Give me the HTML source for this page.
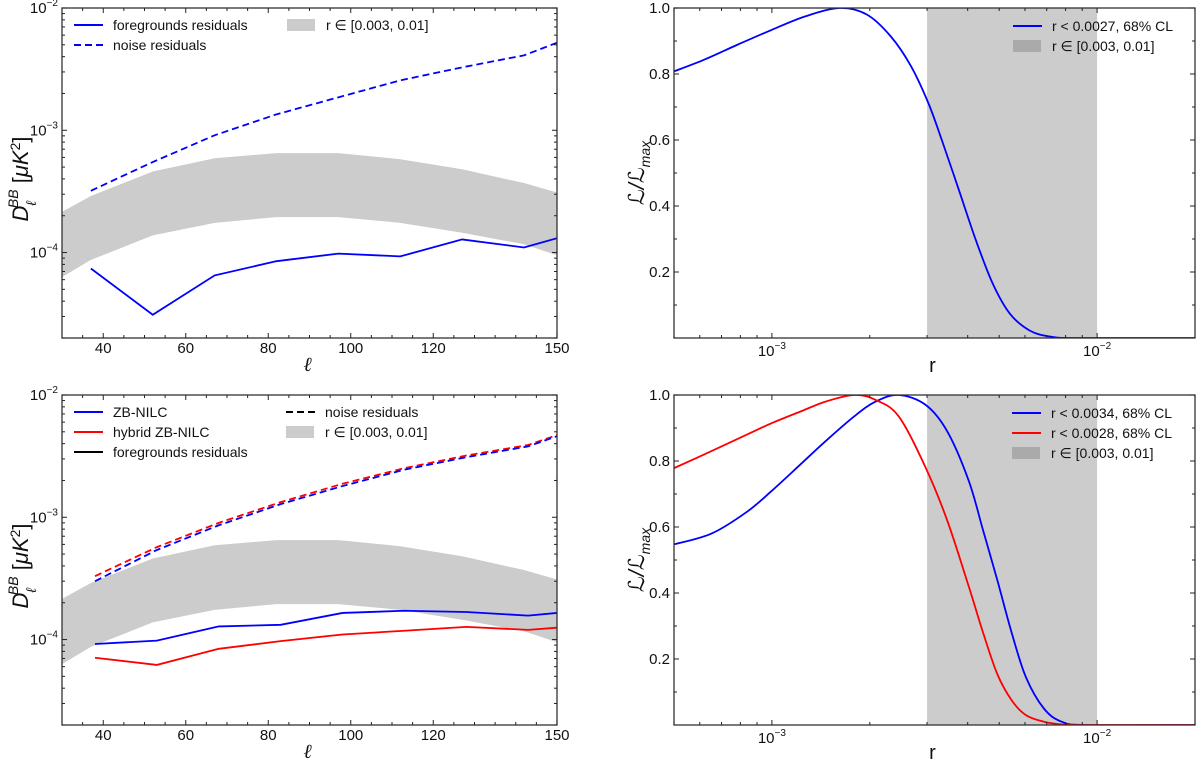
<!DOCTYPE html>
<html><head><meta charset="utf-8"><style>
body{margin:0;background:#fff;width:1200px;height:759px;overflow:hidden}
svg{font-family:"Liberation Sans","DejaVu Sans",sans-serif}
</style></head><body>
<svg id="fig" width="1200" height="759" viewBox="0 0 1200 759" xmlns="http://www.w3.org/2000/svg"></svg>
<script>
// ---- data: top-left panel ----
const ellTop = [37, 52, 67, 82, 97, 112, 127, 142, 150];
const fgTop = [7.4e-5, 3.1e-5, 6.5e-5, 8.5e-5, 9.8e-5, 9.3e-5, 1.28e-4, 1.1e-4, 1.31e-4];
const noiseTop = [3.2e-4, 5.5e-4, 9.1e-4, 1.35e-3, 1.86e-3, 2.56e-3, 3.27e-3, 4.1e-3, 5.2e-3];
// ---- data: r band (both left panels) ----
const ellBand = [30, 37, 52, 67, 82, 97, 112, 127, 142, 150];
const bandUpper = [2.15e-4, 2.9e-4, 4.6e-4, 5.9e-4, 6.5e-4, 6.5e-4, 5.8e-4, 4.8e-4, 3.7e-4, 3.1e-4];
const bandLower = [6.3e-5, 8.7e-5, 1.38e-4, 1.75e-4, 1.95e-4, 1.95e-4, 1.75e-4, 1.45e-4, 1.17e-4, 9.5e-5];
// ---- data: bottom-left panel ----
const ellBot = [38, 53, 68, 83, 98, 113, 128, 143, 150];
const fgZB = [9.2e-5, 9.8e-5, 1.28e-4, 1.32e-4, 1.65e-4, 1.72e-4, 1.68e-4, 1.57e-4, 1.65e-4];
const fgHyb = [7.1e-5, 6.2e-5, 8.4e-5, 9.7e-5, 1.1e-4, 1.18e-4, 1.27e-4, 1.2e-4, 1.25e-4];
const noiseZB = [3.0e-4, 5.4e-4, 8.6e-4, 1.28e-3, 1.8e-3, 2.45e-3, 3.1e-3, 3.8e-3, 4.6e-3];
const noiseHyb = [3.3e-4, 5.7e-4, 9.0e-4, 1.33e-3, 1.88e-3, 2.52e-3, 3.2e-3, 3.9e-3, 4.7e-3];
// ---- data: likelihoods ----
const rTop = [0.0005, 0.000618, 0.000785, 0.001, 0.00127, 0.00162, 0.00196, 0.00232, 0.00268, 0.00303, 0.00333, 0.00376, 0.00424, 0.00478, 0.0054, 0.00622, 0.0072, 0.00873, 0.02];
const likeTop = [0.808, 0.843, 0.889, 0.934, 0.975, 1.0, 0.98, 0.914, 0.823, 0.711, 0.6, 0.448, 0.296, 0.164, 0.073, 0.022, 0.004, 0.0, 0.0];
const rBot = [0.000499, 0.000652, 0.000838, 0.001, 0.001225, 0.001462, 0.00179, 0.002084, 0.002455, 0.00297, 0.00346, 0.00403, 0.00446, 0.00493, 0.00546, 0.00604, 0.00686, 0.00778, 0.00927, 0.02];
const likeZB = [0.547, 0.58, 0.646, 0.71, 0.79, 0.86, 0.935, 0.98, 1.0, 0.97, 0.89, 0.74, 0.59, 0.44, 0.28, 0.145, 0.05, 0.01, 0.0, 0.0];
const likeHyb = [0.778, 0.83, 0.88, 0.915, 0.95, 0.98, 1.0, 0.985, 0.935, 0.78, 0.62, 0.42, 0.28, 0.155, 0.075, 0.03, 0.01, 0.002, 0.0, 0.0];
const rBand = [0.003, 0.01];
const xTicksL = [40, 60, 80, 100, 120, 150];
const yTicksR = [0.2, 0.4, 0.6, 0.8, 1.0];

const NS = "http://www.w3.org/2000/svg";
const svg = document.getElementById('fig');
function mk(tag, attrs, parent) {
  const e = document.createElementNS(NS, tag);
  for (const k in attrs) e.setAttribute(k, attrs[k]);
  (parent || svg).appendChild(e); return e;
}
function linX(d0, d1, p0, p1) { return v => p0 + (v - d0) / (d1 - d0) * (p1 - p0); }
function logS(d0, d1, p0, p1) { const a = Math.log10(d0), b = Math.log10(d1); return v => p0 + (Math.log10(v) - a) / (b - a) * (p1 - p0); }
function pathStr(xs, ys, sx, sy) { return xs.map((v, i) => (i ? 'L' : 'M') + sx(v).toFixed(2) + ',' + sy(ys[i]).toFixed(2)).join(''); }
function smoothStr(xs, ys, sx, sy) {
  const p = xs.map((v, i) => [sx(v), sy(ys[i])]);
  let d = 'M' + p[0][0] + ',' + p[0][1];
  for (let i = 0; i < p.length - 1; i++) {
    const p0 = p[i - 1] || p[i], p1 = p[i], p2 = p[i + 1], p3 = p[i + 2] || p2;
    const c1 = [p1[0] + (p2[0] - p0[0]) / 6, p1[1] + (p2[1] - p0[1]) / 6];
    const c2 = [p2[0] - (p3[0] - p1[0]) / 6, p2[1] - (p3[1] - p1[1]) / 6];
    d += 'C' + c1.join(',') + ' ' + c2.join(',') + ' ' + p2.join(',');
  }
  return d;
}
function clip(id, x0, y0, x1, y1) {
  const c = mk('clipPath', { id: id }); mk('rect', { x: x0, y: y0, width: x1 - x0, height: y1 - y0 }, c);
}
function frame(g, x0, y0, x1, y1) {
  const r = mk('rect', { x: x0, y: y0, width: x1 - x0, height: y1 - y0, fill: 'none', stroke: '#333', 'stroke-width': 1.3 }, g);
  
  
}
function tick(g, x1, y1, x2, y2) { mk('line', { x1: x1, y1: y1, x2: x2, y2: y2, stroke: '#222', 'stroke-width': 1 }, g); }
function txt(g, x, y, s, opts) {
  const t = mk('text', Object.assign({ x: x, y: y, 'font-size': 14, fill: '#111' }, opts || {}), g);
  t.innerHTML = s; return t;
}

// ---------- left panels ----------
function leftPanel(name, y0, y1, drawFn, legendFn) {
  const x0 = 62, x1 = 557;
  const g = mk('g', {});  
  const sx = linX(30, 150, x0, x1), sy = logS(2e-5, 1e-2, y1, y0);
  clip(name + '-clip', x0, y0, x1, y1);
  const gc = mk('g', { 'clip-path': 'url(#' + name + '-clip)' }, g);
  const bx = ellBand.concat(ellBand.slice().reverse()), by = bandUpper.concat(bandLower.slice().reverse());
  const band = mk('path', { d: pathStr(bx, by, sx, sy) + 'Z', fill: '#cccccc' }, gc);
  
  
  drawFn(gc, sx, sy);
  frame(g, x0, y0, x1, y1);
  for (let v = 35; v <= 150; v += 5) { const x = sx(v); const L = xTicksL.includes(v) ? 5 : 3; tick(g, x, y1, x, y1 - L); tick(g, x, y0, x, y0 + L); }
  xTicksL.forEach(v => txt(g, sx(v), y1 + 15, v, { 'text-anchor': 'middle', 'font-size': 15 }));
  for (let e = -5; e <= -2; e++) for (let m = 1; m <= 9; m++) {
    const v = m * Math.pow(10, e); if (v < 2e-5 || v > 1e-2) continue;
    const y = sy(v); const L = m === 1 ? 5 : 3; tick(g, x0, y, x0 + L, y); tick(g, x1, y, x1 - L, y);
  }
  [-2, -3, -4].forEach(e => txt(g, x0 - 4, sy(Math.pow(10, e)) + 5, '10<tspan dy="-7" font-size="10">−' + (-e) + '</tspan>', { 'text-anchor': 'end', 'font-size': 15 }));
  const xl = txt(g, (x0 + x1) / 2 - 2, y1 + 33, 'ℓ', { 'text-anchor': 'middle', 'font-size': 20, 'font-style': 'italic', 'font-family': 'DejaVu Serif, serif' });
  
  const yl = txt(g, 0, 0, '<tspan font-style="italic">D</tspan><tspan font-size="14" font-style="italic" dy="8">ℓ</tspan><tspan font-size="14" font-style="italic" dx="-7" dy="-18">BB</tspan><tspan dy="10"> [</tspan><tspan font-style="italic">μK</tspan><tspan font-size="14" dy="-8">2</tspan><tspan dy="8">]</tspan>', { 'font-size': 22, 'text-anchor': 'middle', transform: 'translate(28,' + ((y0 + y1) / 2 + 6) + ') rotate(-90)' });
  
  legendFn(g, y0);
}
function line(g, xs, ys, sx, sy, color, dash, name) {
  const p = mk('path', { d: pathStr(xs, ys, sx, sy), fill: 'none', stroke: color, 'stroke-width': 1.8, 'stroke-dasharray': dash || 'none' }, g);
  
  
}
function legendLine(g, x, y, color, dash, label, name) {
  const e = mk('g', {}, g);
  
  
  mk('line', { x1: x, y1: y, x2: x + 29, y2: y, stroke: color, 'stroke-width': 2, 'stroke-dasharray': dash || 'none' }, e);
  txt(e, x + 39, y + 5, label);
}
function legendPatch(g, x, y, color, label, name) {
  const e = mk('g', {}, g);
  
  
  mk('rect', { x: x, y: y - 6, width: 28, height: 12, fill: color }, e);
  txt(e, x + 39, y + 5, label);
}

leftPanel('residuals-panel-top', 8, 338, (g, sx, sy) => {
  line(g, ellTop, noiseTop, sx, sy, '#0000ff', '7,4', 'noise-residuals-line');
  line(g, ellTop, fgTop, sx, sy, '#0000ff', null, 'foreground-residuals-line');
}, (g, y0) => {
  legendLine(g, 74, 25, '#0000ff', null, 'foregrounds residuals', 'legend-foregrounds');
  legendLine(g, 74, 45, '#0000ff', '7,4', 'noise residuals', 'legend-noise');
  legendPatch(g, 287, 25, '#cccccc', 'r ∈ [0.003, 0.01]', 'legend-r-band');
});

leftPanel('residuals-panel-bottom', 395, 725, (g, sx, sy) => {
  line(g, ellBot, noiseHyb, sx, sy, '#ff0000', '7,4', 'noise-hybrid-line');
  line(g, ellBot, noiseZB, sx, sy, '#0000ff', '7,4', 'noise-zbnilc-line');
  line(g, ellBot, fgZB, sx, sy, '#0000ff', null, 'fg-zbnilc-line');
  line(g, ellBot, fgHyb, sx, sy, '#ff0000', null, 'fg-hybrid-line');
}, (g, y0) => {
  legendLine(g, 74, 412, '#0000ff', null, 'ZB-NILC', 'legend-zbnilc');
  legendLine(g, 74, 432, '#ff0000', null, 'hybrid ZB-NILC', 'legend-hybrid');
  legendLine(g, 74, 452, '#000000', null, 'foregrounds residuals', 'legend-foregrounds');
  legendLine(g, 286, 412, '#000000', '7,4', 'noise residuals', 'legend-noise');
  legendPatch(g, 286, 432, '#cccccc', 'r ∈ [0.003, 0.01]', 'legend-r-band');
});

// ---------- right panels ----------
function rightPanel(name, y0, y1, series, legends) {
  const x0 = 674, x1 = 1195;
  const g = mk('g', {});  
  const sx = logS(5e-4, 2e-2, x0, x1), sy = linX(0, 1, y1, y0);
  clip(name + '-clip', x0, y0, x1, y1);
  const gc = mk('g', { 'clip-path': 'url(#' + name + '-clip)' }, g);
  const b = mk('rect', { x: sx(rBand[0]), y: y0, width: sx(rBand[1]) - sx(rBand[0]), height: y1 - y0, fill: '#cccccc' }, gc);
  
  
  series.forEach(s => {
    const p = mk('path', { d: smoothStr(s.x, s.y, sx, sy), fill: 'none', stroke: s.c, 'stroke-width': 1.8 }, gc);
    
    
  });
  frame(g, x0, y0, x1, y1);
  for (let e = -4; e <= -2; e++) for (let m = 1; m <= 9; m++) {
    const v = m * Math.pow(10, e); if (v < 5e-4 || v > 2e-2) continue;
    const x = sx(v); const L = m === 1 ? 5 : 3; tick(g, x, y1, x, y1 - L); tick(g, x, y0, x, y0 + L);
  }
  [-3, -2].forEach(e => txt(g, sx(Math.pow(10, e)), y1 + 18, '10<tspan dy="-7" font-size="10">−' + (-e) + '</tspan>', { 'text-anchor': 'middle', 'font-size': 15 }));
  for (let i = 1; i <= 10; i++) { const y = sy(i / 10); const L = i % 2 === 0 ? 5 : 3; tick(g, x0, y, x0 + L, y); tick(g, x1, y, x1 - L, y); }
  yTicksR.forEach(v => txt(g, x0 - 4, sy(v) + 5, v.toFixed(1), { 'text-anchor': 'end', 'font-size': 15 }));
  const xl = txt(g, (x0 + x1) / 2 - 2, y1 + 34, 'r', { 'text-anchor': 'middle', 'font-size': 20 });
  
  const yl = txt(g, 0, 0, 'ℒ/ℒ<tspan font-size="14" dy="6">max</tspan>', { 'font-size': 22, 'font-style': 'italic', 'text-anchor': 'middle', transform: 'translate(644,' + ((y0 + y1) / 2) + ') rotate(-90)' });
  
  legends(g);
}
rightPanel('likelihood-panel-top', 8, 338, [{ x: rTop, y: likeTop, c: '#0000ff', n: 'likelihood-line' }], g => {
  legendLine(g, 1013, 26, '#0000ff', null, 'r &lt; 0.0027, 68% CL', 'legend-likelihood');
  legendPatch(g, 1013, 46, '#aaaaaa', 'r ∈ [0.003, 0.01]', 'legend-r-band');
});
rightPanel('likelihood-panel-bottom', 395, 725, [
  { x: rBot, y: likeZB, c: '#0000ff', n: 'likelihood-zbnilc-line' },
  { x: rBot, y: likeHyb, c: '#ff0000', n: 'likelihood-hybrid-line' }], g => {
  legendLine(g, 1012, 413, '#0000ff', null, 'r &lt; 0.0034, 68% CL', 'legend-zbnilc');
  legendLine(g, 1012, 433, '#ff0000', null, 'r &lt; 0.0028, 68% CL', 'legend-hybrid');
  legendPatch(g, 1012, 453, '#aaaaaa', 'r ∈ [0.003, 0.01]', 'legend-r-band');
});
</script>
</body></html>
